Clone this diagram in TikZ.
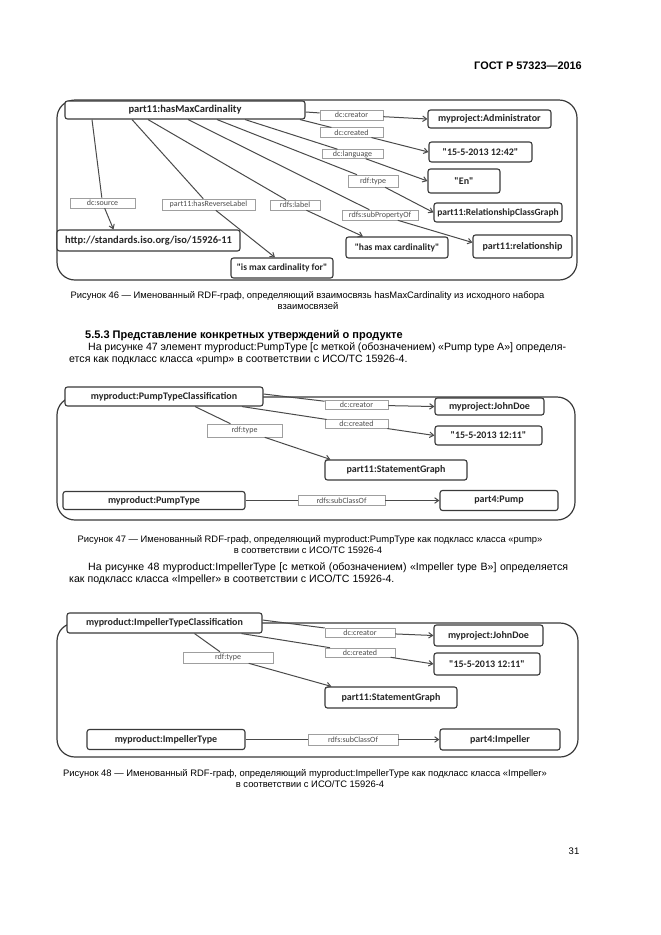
\documentclass[tikz,border=0pt]{standalone}
\usepackage{fontspec}
\setmainfont{Liberation Sans}
\newfontfamily\calfont{Carlito}
\usetikzlibrary{arrows.meta}
\definecolor{frm}{HTML}{3A3A3A}
\definecolor{edg}{HTML}{4A4A4A}
\begin{document}
\begin{tikzpicture}[x=1pt,y=-1pt,
  val/.style={draw=frm, line width=1.1pt, rounded corners=2.5pt, fill=white,
    font=\calfont\bfseries\fontsize{#1}{#1}\selectfont, inner sep=0pt, text=black!85},
  val/.default=10,
  lbl/.style={draw=gray!75, line width=0.6pt, fill=white,
    font=\calfont\fontsize{8}{8}\selectfont, text=black!70, inner sep=0pt},
  conn/.style={draw=edg, line width=1pt},
  arrc/.style={conn, -{Straight Barb[length=4pt,width=5.5pt]}},
  framebox/.style={draw=frm, line width=1.2pt, rounded corners=18pt},
  txt/.style={inner sep=0pt, font=\fontsize{10.6}{12}\selectfont},
  captxt/.style={inner sep=0pt, font=\fontsize{9.4}{10}\selectfont}]
\useasboundingbox (0,0) rectangle (661,935);
\fill[white] (0,0) rectangle (661,935);

% header
\node[anchor=east, inner sep=0pt, font=\bfseries\fontsize{10.9}{12}\selectfont] (hdr) at (582,66) {ГОСТ Р 57323—2016};

% ================= Figure 46
\draw[framebox] (57,100) rectangle (577,280);
\node[val=10.5, minimum width=240pt, minimum height=18pt] (hmc) at (185,110) {part11:hasMaxCardinality};
\node[val, minimum width=123pt, minimum height=18pt] (admin) at (489.5,119) {myproject:Administrator};
\node[val, minimum width=103pt, minimum height=20pt] (d1242) at (480.5,152) {"15-5-2013 12:42"};
\node[val, minimum width=72pt, minimum height=24pt] (en) at (464,181) {"En"};
\node[val=9.5, minimum width=128pt, minimum height=19pt] (rcg) at (498,212.5) {part11:RelationshipClassGraph};
\node[val, minimum width=99pt, minimum height=23pt] (rel) at (522.5,246.5) {part11:relationship};
\node[val=9.5, minimum width=102pt, minimum height=21pt] (hmcl) at (397,247.5) {"has max cardinality"};
\node[val=10.5, minimum width=183pt, minimum height=21pt] (http) at (148.5,240.5) {http://standards.iso.org/iso/15926-11};
\node[val=9.5, minimum width=102pt, minimum height=20pt] (imcf) at (282,268) {"is max cardinality for"};

\node[lbl, minimum width=63pt, minimum height=10pt] (lcreator) at (351.5,115) {dc:creator};
\node[lbl, minimum width=63pt, minimum height=9.5pt] (lcreated) at (351.5,132.5) {dc:created};
\node[lbl, minimum width=61pt, minimum height=9pt] (llang) at (352.5,154) {dc:language};
\node[lbl, minimum width=50pt, minimum height=12pt] (ltype) at (373,181) {rdf:type};
\node[lbl, minimum width=76pt, minimum height=10pt] (lsub) at (380,215) {rdfs:subPropertyOf};
\node[lbl, minimum width=65pt, minimum height=10pt] (lsource) at (102.5,203) {dc:source};
\node[lbl, minimum width=93pt, minimum height=11pt] (lrev) at (208.5,204.5) {part11:hasReverseLabel};
\node[lbl, minimum width=50pt, minimum height=10pt] (llabel) at (295,205) {rdfs:label};

\draw[conn] ([yshift=-2pt]hmc.east) -- (lcreator);
\draw[arrc] (lcreator) -- (admin.west);
\draw[conn] ([xshift=115pt]hmc.south) -- (lcreated);
\draw[arrc] (lcreated) -- (d1242.west);
\draw[conn] ([xshift=60pt]hmc.south) -- (llang);
\draw[arrc] (llang) -- (en.west);
\draw[conn] ([xshift=32pt]hmc.south) -- (ltype);
\draw[arrc] (ltype) -- (rcg.west);
\draw[conn] ([xshift=3pt]hmc.south) -- (lsub);
\draw[arrc] (lsub) -- ([yshift=4pt]rel.west);
\draw[conn] ([xshift=-37pt]hmc.south) -- (llabel);
\draw[arrc] (llabel) -- ([xshift=-34pt]hmcl.north);
\draw[conn] ([xshift=-53pt]hmc.south) -- (lrev);
\draw[arrc] (lrev) -- ([xshift=-7pt]imcf.north);
\draw[conn] ([xshift=-93pt]hmc.south) -- (lsource);
\draw[arrc] (lsource) -- ([xshift=-35pt]http.north);

\node[captxt] (c46a) at (307.5,296) {Рисунок 46 — Именованный RDF-граф, определяющий взаимосвязь hasMaxCardinality из исходного набора};
\node[captxt] (c46b) at (308,306) {взаимосвязей};

% text
\node[txt, anchor=west, font=\bfseries\fontsize{11}{12}\selectfont] (h553) at (85,336) {5.5.3 Представление конкретных утверждений о продукте};
\node[txt, anchor=west] (p1a) at (88,348) {\makebox[478pt][s]{На рисунке 47 элемент myproduct:PumpType [с меткой (обозначением) «Pump type A»] определя-}};
\node[txt, anchor=west] (p1b) at (69,359.5) {ется как подкласс класса «pump» в соответствии с ИСО/ТС 15926-4.};

% ================= Figure 47
\draw[framebox] (57,397) rectangle (575,520);
\node[val, minimum width=198pt, minimum height=19pt] (ptc) at (164,396.5) {myproduct:PumpTypeClassification};
\node[val, minimum width=109pt, minimum height=17pt] (jd) at (489.5,406.5) {myproject:JohnDoe};
\node[val, minimum width=107pt, minimum height=19pt] (d1211) at (488.5,435.5) {"15-5-2013 12:11"};
\node[val, minimum width=142pt, minimum height=20pt] (sg) at (396,470) {part11:StatementGraph};
\node[val, minimum width=182pt, minimum height=18pt] (pt) at (154,500.5) {myproduct:PumpType};
\node[val, minimum width=118pt, minimum height=20pt] (pump) at (499,500.5) {part4:Pump};

\node[lbl, minimum width=63pt, minimum height=8.5pt] (lcr2) at (356.5,405) {dc:creator};
\node[lbl, minimum width=63pt, minimum height=8.5pt] (lcd2) at (356.5,424) {dc:created};
\node[lbl, minimum width=75pt, minimum height=13pt] (lty2) at (244.5,430.5) {rdf:type};
\node[lbl, minimum width=87pt, minimum height=10pt] (lsb2) at (341.5,500.5) {rdfs:subClassOf};

\draw[conn] ([yshift=2.5pt]ptc.east) -- (lcr2);
\draw[arrc] (lcr2) -- (jd.west);
\draw[conn] ([xshift=78pt]ptc.south) -- (lcd2);
\draw[arrc] (lcd2) -- (d1211.west);
\draw[conn] ([xshift=31pt]ptc.south) -- (lty2);
\draw[arrc] (lty2) -- ([xshift=6pt]sg.north west);
\draw[conn] (pt) -- (lsb2);
\draw[arrc] (lsb2) -- (pump);

\node[captxt] (c47a) at (310,540) {Рисунок 47 — Именованный RDF-граф, определяющий myproduct:PumpType как подкласс класса «pump»};
\node[captxt] (c47b) at (308,550) {в соответствии с ИСО/ТС 15926-4};

\node[txt, anchor=west] (p2a) at (88,568) {\makebox[480pt][s]{На рисунке 48 myproduct:ImpellerType [с меткой (обозначением) «Impeller type B»] определяется}};
\node[txt, anchor=west] (p2b) at (69,580) {как подкласс класса «Impeller» в соответствии с ИСО/ТС 15926-4.};

% ================= Figure 48
\draw[framebox] (57,623) rectangle (578,757);
\node[val, minimum width=195pt, minimum height=20pt] (itc) at (164.5,623) {myproduct:ImpellerTypeClassification};
\node[val, minimum width=109pt, minimum height=21pt] (jd2) at (488.5,635.5) {myproject:JohnDoe};
\node[val, minimum width=106pt, minimum height=22pt] (d2) at (487,664) {"15-5-2013 12:11"};
\node[val, minimum width=132pt, minimum height=21pt] (sg2) at (391,697.5) {part11:StatementGraph};
\node[val, minimum width=158pt, minimum height=20pt] (it) at (166,739.5) {myproduct:ImpellerType};
\node[val, minimum width=120pt, minimum height=21pt] (imp) at (500,739.5) {part4:Impeller};

\node[lbl, minimum width=70pt, minimum height=9pt] (lcr3) at (360,632.5) {dc:creator};
\node[lbl, minimum width=70pt, minimum height=9pt] (lcd3) at (360,652.5) {dc:created};
\node[lbl, minimum width=90pt, minimum height=11pt] (lty3) at (228,657.5) {rdf:type};
\node[lbl, minimum width=90pt, minimum height=11pt] (lsb3) at (353,739.5) {rdfs:subClassOf};

\draw[conn] ([yshift=3pt]itc.east) -- (lcr3);
\draw[arrc] (lcr3) -- (jd2.west);
\draw[conn] ([xshift=77pt]itc.south) -- (lcd3);
\draw[arrc] (lcd3) -- (d2.west);
\draw[conn] ([xshift=30pt]itc.south) -- (lty3);
\draw[arrc] (lty3) -- ([xshift=7pt]sg2.north west);
\draw[conn] (it) -- (lsb3);
\draw[arrc] (lsb3) -- (imp);

\node[captxt] (c48a) at (305,774) {Рисунок 48 — Именованный RDF-граф, определяющий myproduct:ImpellerType как подкласс класса «Impeller»};
\node[captxt] (c48b) at (310,784) {в соответствии с ИСО/ТС 15926-4};

\node[inner sep=0pt, font=\fontsize{9.5}{11}\selectfont] (pg) at (574,851) {31};
\end{tikzpicture}
\end{document}
